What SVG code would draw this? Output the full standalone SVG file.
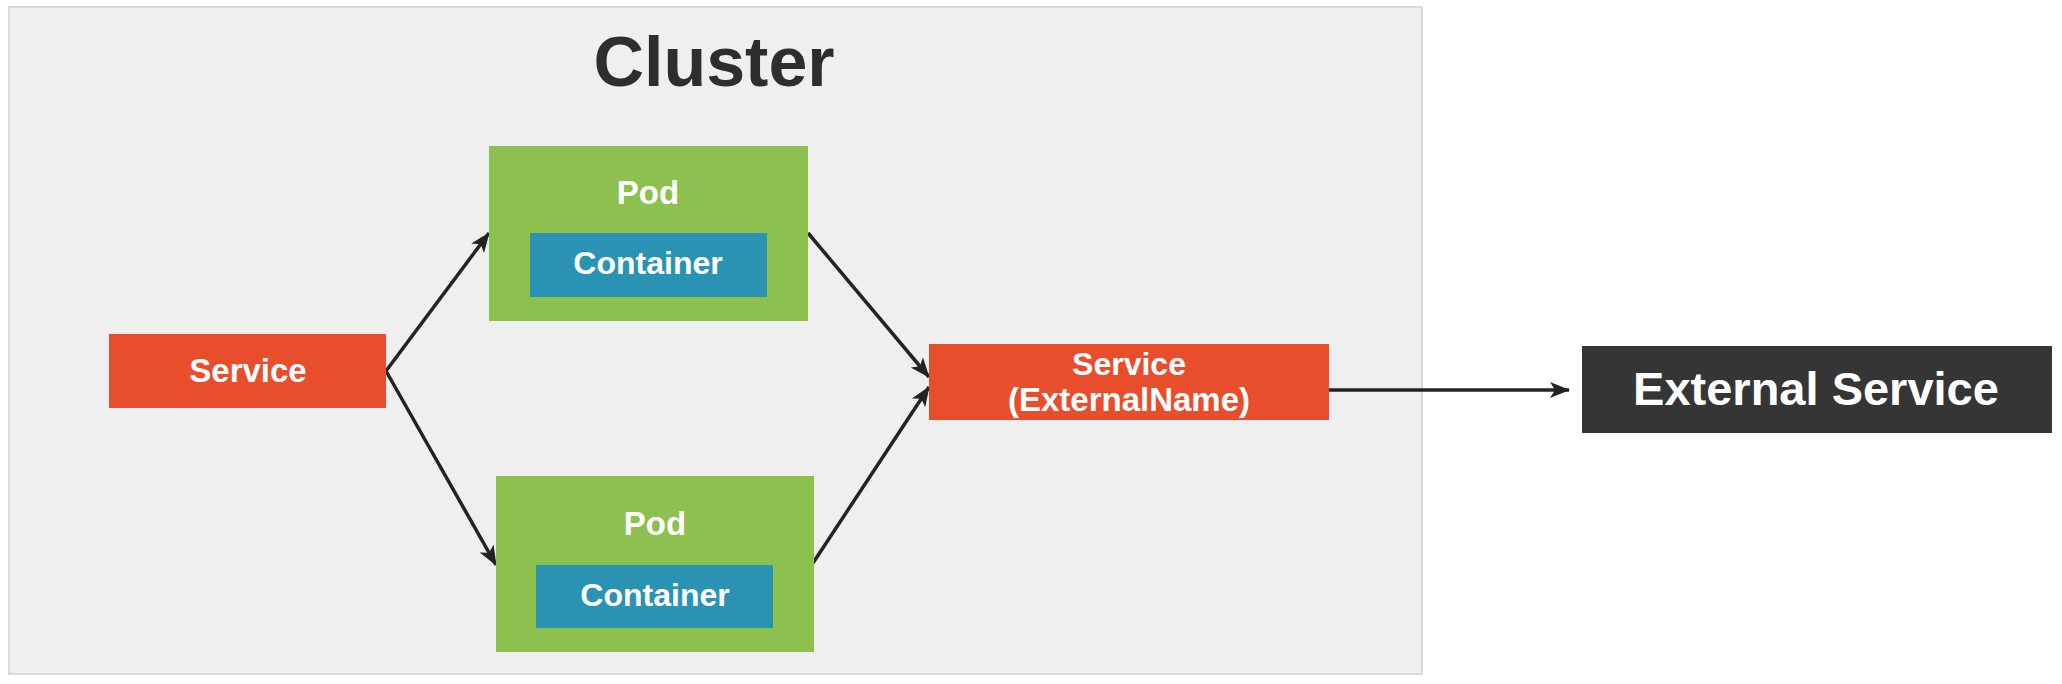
<svg xmlns="http://www.w3.org/2000/svg" width="2062" height="684" viewBox="0 0 2062 684">
<defs>
<style>
.t{font-family:"Liberation Sans",Arial,sans-serif;font-weight:bold;fill:#ffffff;text-anchor:middle}
.svc{fill:#e84e2c}
.pod{fill:#8cc04f}
.ctr{fill:#2a93b3}
.conn{stroke:#232323;stroke-width:3.5;fill:none;marker-end:url(#ah)}
</style>
<marker id="ah" markerUnits="userSpaceOnUse" markerWidth="22" markerHeight="20" refX="19" refY="10" orient="auto">
<path d="M0,2 L20,10 L0,18 L5,10 Z" fill="#232323"/>
</marker>
</defs>
<rect width="2062" height="684" fill="#ffffff"/>
<g id="cluster">
<rect x="9" y="7" width="1413" height="667" fill="#efefef" stroke="#dadada" stroke-width="2"/>
<text class="t" x="714" y="86" font-size="70" style="fill:#2e2e2e">Cluster</text>
</g>
<g id="connectors">
<line class="conn" x1="386" y1="371" x2="489" y2="233"/>
<line class="conn" x1="386" y1="371" x2="496" y2="565"/>
<line class="conn" x1="808" y1="233" x2="929" y2="377"/>
<line class="conn" x1="813" y1="563" x2="929" y2="387"/>
<line class="conn" x1="1329" y1="390" x2="1569" y2="390"/>
</g>
<g id="service">
<rect class="svc" x="109" y="334" width="277" height="74"/>
<text class="t" x="248" y="382" font-size="33">Service</text>
</g>
<g id="pod1">
<rect class="pod" x="489" y="146" width="319" height="175"/>
<text class="t" x="648" y="204" font-size="33">Pod</text>
<rect class="ctr" x="530" y="233" width="237" height="64"/>
<text class="t" x="648" y="274" font-size="32">Container</text>
</g>
<g id="pod2">
<rect class="pod" x="496" y="476" width="318" height="176"/>
<text class="t" x="655" y="535" font-size="33">Pod</text>
<rect class="ctr" x="536" y="565" width="237" height="63"/>
<text class="t" x="655" y="606" font-size="32">Container</text>
</g>
<g id="service-externalname">
<rect class="svc" x="929" y="344" width="400" height="76"/>
<text class="t" x="1129" y="375" font-size="32">Service</text>
<text class="t" x="1129" y="411" font-size="33">(ExternalName)</text>
</g>
<g id="external-service">
<rect x="1582" y="346" width="470" height="87" fill="#353535"/>
<text class="t" x="1816" y="405" font-size="47">External Service</text>
</g>
</svg>
